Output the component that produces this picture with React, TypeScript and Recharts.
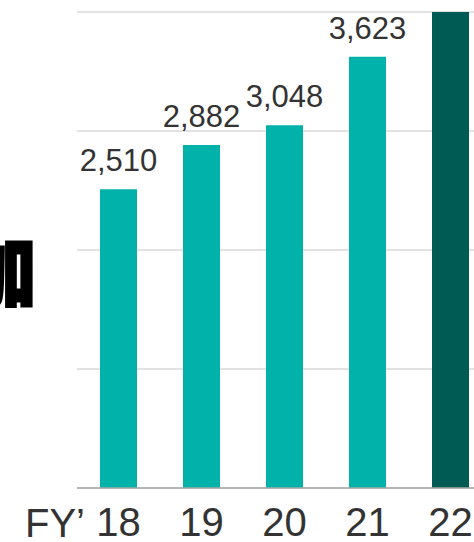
import React from 'react';
import { BarChart, Bar, XAxis, YAxis, CartesianGrid, LabelList, Cell } from 'recharts';

const years = ['18', '19', '20', '21', '22'];
const sales = [2510, 2882, 3048, 3623, 4000]; // FY22 top is cropped, estimated
const barColors = ['#00B2A9', '#00B2A9', '#00B2A9', '#00B2A9', '#005B55'];
const yTicks = [0, 1000, 2000, 3000, 4000];

const data = years.map((y, i) => ({ year: y, value: sales[i] }));

const FONT = '"Liberation Sans", Arial, sans-serif';

export default function App() {
  return (
    <div style={{ position: 'fixed', left: 0, top: 0, width: 474, height: 542, overflow: 'hidden', background: '#fff' }}>
      <BarChart
        width={492}
        height={542}
        data={data}
        margin={{ top: 12, right: 0, left: 77, bottom: 0 }}
      >
        <CartesianGrid horizontal vertical={false} stroke="#D9D9D9" strokeWidth={1.5} />
        <YAxis hide domain={[0, 4000]} ticks={yTicks} />
        <XAxis
          dataKey="year"
          height={54}
          tickLine={false}
          tickSize={0}
          tickMargin={20}
          stroke="#A6A6A6"
          strokeWidth={1.5}
          tick={{ fill: '#333333', fontSize: 40, fontFamily: FONT }}
        />
        <Bar dataKey="value" barSize={37} isAnimationActive={false}>
          {data.map((d, i) => (
            <Cell key={d.year} fill={barColors[i]} />
          ))}
          <LabelList
            dataKey="value"
            position="top"
            offset={18}
            formatter={(v: number) => v.toLocaleString('en-US')}
            style={{ fill: '#333333', fontSize: 31, fontFamily: FONT }}
          />
        </Bar>
      </BarChart>
      <svg width={474} height={542} style={{ position: 'absolute', left: 0, top: 0, pointerEvents: 'none' }}>
        {/* big heading glyph, cropped at the left edge */}
        <text
          x={0}
          y={0}
          fontSize={78}
          fontWeight={900}
          fontFamily='"Noto Sans CJK SC", sans-serif'
          textAnchor="end"
          fill="#000"
          stroke="#000"
          strokeWidth={3}
          transform="translate(36,301) scale(0.85,1)"
        >
          加
        </text>
        <text x={25} y={537} fontSize={40} fontFamily={FONT} fill="#333333">
          FY’
        </text>
      </svg>
    </div>
  );
}
